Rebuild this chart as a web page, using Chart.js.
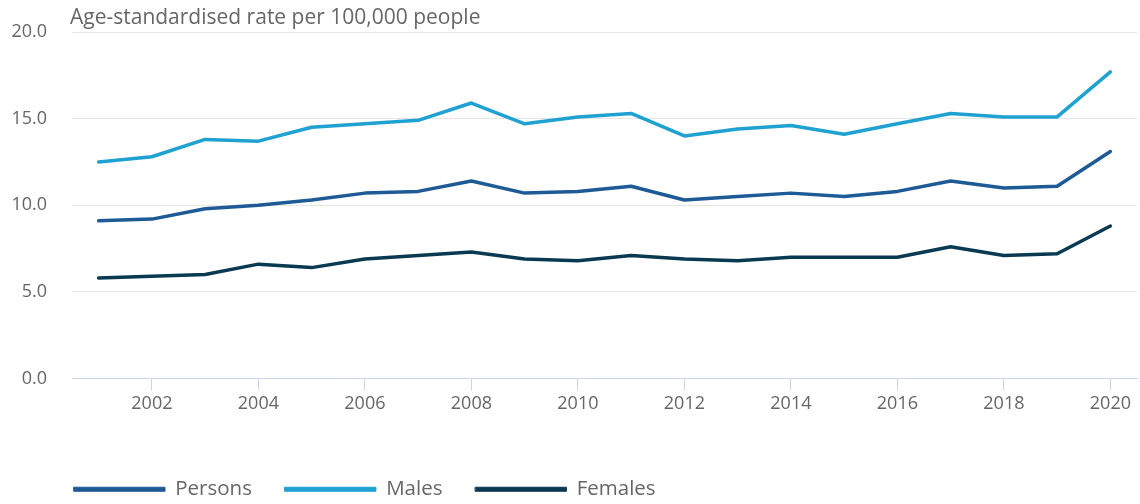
<!DOCTYPE html>
<html>
<head>
<meta charset="utf-8">
<script src="https://cdn.jsdelivr.net/npm/chart.js@4"></script>
<style>
  html, body { margin: 0; padding: 0; background: #fff; }
  #wrap { width: 1140px; height: 504px; position: relative; }
</style>
</head>
<body>
<div id="wrap"><canvas id="c"></canvas></div>
<script>
const years = [2001,2002,2003,2004,2005,2006,2007,2008,2009,2010,2011,2012,2013,2014,2015,2016,2017,2018,2019,2020];
const persons = [9.1,9.2,9.8,10.0,10.3,10.7,10.8,11.4,10.7,10.8,11.1,10.3,10.5,10.7,10.5,10.8,11.4,11.0,11.1,13.1];
const males   = [12.5,12.8,13.8,13.7,14.5,14.7,14.9,15.9,14.7,15.1,15.3,14.0,14.4,14.6,14.1,14.7,15.3,15.1,15.1,17.7];
const females = [5.8,5.9,6.0,6.6,6.4,6.9,7.1,7.3,6.9,6.8,7.1,6.9,6.8,7.0,7.0,7.0,7.6,7.1,7.2,8.8];
const xTickYears = [2002,2004,2006,2008,2010,2012,2014,2016,2018,2020];
const yTicks = [0,5,10,15,20];
const yAxisTitle = 'Age-standardised rate per 100,000 people';
const seriesNames = ['Persons','Males','Females'];
const seriesColors = ['#1d5a96','#1fa1d2','#0a3a52'];

const FONT = '"Open Sans", "Noto Sans", sans-serif';
const TXT = '#666666';

function pts(vals) { return years.map((y, i) => ({ x: y, y: vals[i] })); }

const titlePlugin = {
  id: 'topTitle',
  afterDraw(chart) {
    const ctx = chart.ctx;
    ctx.save();
    ctx.font = '21px ' + FONT;
    ctx.fillStyle = TXT;
    ctx.textAlign = 'left';
    ctx.textBaseline = 'middle';
    ctx.fillText(yAxisTitle, chart.chartArea.left - 2, 18);
    ctx.restore();
  }
};

// keep the legend compact in height and place it like the reference
const legendPlacer = {
  id: 'legendPlacer',
  beforeLayout(chart) {
    const lg = chart.legend;
    if (lg && !lg._patched) {
      const f = lg.fit.bind(lg);
      lg.fit = function () { f(); this.height = 80.5; };
      lg._patched = true;
    }
  },
  afterLayout(chart) {
    const lg = chart.legend;
    if (lg) { lg.left = 41; lg.top = 446; }
  }
};

const seriesData = [persons, males, females];

new Chart(document.getElementById('c'), {
  type: 'line',
  data: {
    datasets: seriesNames.map((n, i) => ({
      label: n,
      data: pts(seriesData[i]),
      borderColor: seriesColors[i],
      backgroundColor: seriesColors[i],
      borderWidth: 3.5,
      pointRadius: 0,
      pointHoverRadius: 0,
      tension: 0,
      borderCapStyle: 'round',
      borderJoinStyle: 'round',
      fill: false
    }))
  },
  options: {
    responsive: true,
    maintainAspectRatio: false,
    animation: false,
    layout: { padding: { left: 0, right: 3, top: 32, bottom: 0 } },
    plugins: {
      legend: {
        position: 'bottom',
        align: 'start',
        labels: {
          boxWidth: 91,
          boxHeight: 4,
          padding: 33,
          color: TXT,
          font: { family: FONT, size: 20.5 },
          generateLabels(chart) {
            const items = Chart.defaults.plugins.legend.labels.generateLabels(chart);
            items.forEach(it => { it.lineWidth = 1; });
            return items;
          }
        }
      },
      tooltip: { enabled: false }
    },
    scales: {
      x: {
        type: 'linear',
        min: 2000.5,
        max: 2020.5,
        afterBuildTicks(scale) { scale.ticks = xTickYears.map(v => ({ value: v })); },
        afterFit(scale) { scale.height = 45; },
        ticks: {
          color: TXT,
          font: { family: FONT, size: 18 },
          padding: 3,
          maxRotation: 0,
          autoSkip: false,
          callback: (v) => String(v)
        },
        grid: { display: true, drawOnChartArea: false, drawTicks: true, tickLength: 12, color: '#ccd6eb', lineWidth: 1 },
        border: { display: true, color: '#ccd6eb', width: 1 }
      },
      y: {
        min: 0,
        max: 20,
        afterBuildTicks(scale) { scale.ticks = yTicks.map(v => ({ value: v })); },
        afterFit(scale) { scale.width = 72; },
        ticks: {
          color: TXT,
          font: { family: FONT, size: 18 },
          padding: 2,
          callback: (v) => Number(v).toFixed(1)
        },
        grid: { color: '#e6e6e6', lineWidth: 1, drawTicks: true, tickLength: 23, tickColor: 'rgba(0,0,0,0)' },
        border: { display: false }
      }
    }
  },
  plugins: [titlePlugin, legendPlacer]
});
</script>
</body>
</html>
